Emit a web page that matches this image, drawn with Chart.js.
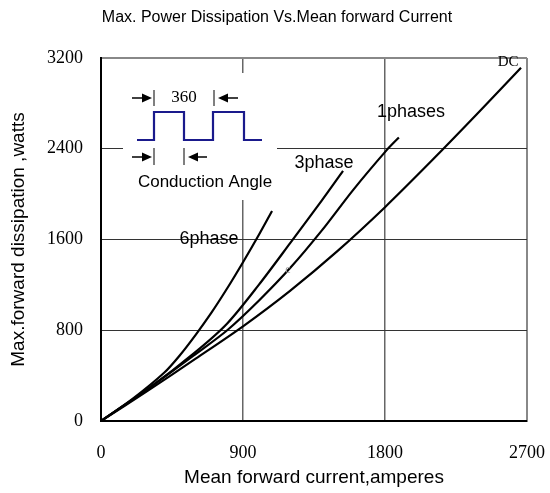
<!DOCTYPE html>
<html>
<head>
<meta charset="utf-8">
<script src="https://cdn.jsdelivr.net/npm/chart.js@4.4.1/dist/chart.umd.min.js"></script>
<style>
html,body{margin:0;padding:0;background:#fff;}
#wrap{width:550px;height:493px;}
</style>
</head>
<body>
<div id="wrap"><canvas id="c" width="550" height="493"></canvas></div>
<script>
// ---- data ----
const xTicks = [0, 900, 1800, 2700];
const yTicks = [0, 800, 1600, 2400, 3200];

const dcX = [0, 300, 600, 900, 1200, 1500, 1800, 2100, 2400, 2662];
const dcY = [0, 270, 550, 835, 1150, 1500, 1885, 2300, 2730, 3115];

const ph1X = [0, 300, 600, 800, 1000, 1200, 1400, 1600, 1812, 1888];
const ph1Y = [0, 285, 590, 800, 1060, 1350, 1680, 2040, 2390, 2500];

const ph3X = [0, 300, 600, 800, 1000, 1200, 1400, 1534];
const ph3Y = [0, 285, 610, 860, 1200, 1570, 1945, 2205];

const ph6X = [0, 200, 400, 500, 600, 700, 800, 900, 1000, 1084];
const ph6Y = [0, 195, 425, 580, 760, 955, 1170, 1400, 1640, 1852];

const curveNames = ['DC', '1phases', '3phase', '6phase'];
const labelX = [2580, 1965, 1413, 684];
const labelY = [3165, 2724, 2274, 1604];

const titleText = 'Max. Power Dissipation Vs.Mean forward Current';
const xTitle = 'Mean forward current,amperes';
const yTitle = 'Max.forward dissipation ,watts';

function pts(xs, ys) { return xs.map((x, i) => ({x: x, y: ys[i]})); }

const mk = (name, xs, ys) => ({
  label: name, data: pts(xs, ys), showLine: true, pointRadius: 0,
  borderColor: '#000', borderWidth: 2.2, tension: 0.3, fill: false
});

function arrow(ctx, xTail, xTip, y) {
  const dir = xTip > xTail ? 1 : -1;
  const head = 10;
  ctx.beginPath();
  ctx.moveTo(xTail, y);
  ctx.lineTo(xTip - dir * head, y);
  ctx.strokeStyle = '#000'; ctx.lineWidth = 1.5; ctx.stroke();
  ctx.beginPath();
  ctx.moveTo(xTip, y);
  ctx.lineTo(xTip - dir * head, y - 4.5);
  ctx.lineTo(xTip - dir * head, y + 4.5);
  ctx.closePath(); ctx.fillStyle = '#000'; ctx.fill();
}
function vtick(ctx, x, y1, y2) {
  ctx.beginPath(); ctx.moveTo(x, y1); ctx.lineTo(x, y2);
  ctx.strokeStyle = '#000'; ctx.lineWidth = 1; ctx.stroke();
}

const deco = {
  id: 'deco',
  beforeDatasetsDraw(chart) {
    const ctx = chart.ctx;
    ctx.save();
    ctx.fillStyle = '#fff';
    ctx.fillRect(123, 73, 154, 127);
    ctx.beginPath();
    const wx = [137, 154, 154, 184, 184, 213, 213, 244, 244, 262];
    const wy = [140, 140, 112, 112, 140, 140, 112, 112, 140, 140];
    wx.forEach((x, i) => i ? ctx.lineTo(x, wy[i]) : ctx.moveTo(x, wy[i]));
    ctx.strokeStyle = '#1a1a8c'; ctx.lineWidth = 2.2; ctx.stroke();
    arrow(ctx, 132, 152, 98); vtick(ctx, 154, 90, 106);
    arrow(ctx, 238, 218, 98); vtick(ctx, 214, 90, 106);
    arrow(ctx, 132, 152, 157); vtick(ctx, 154, 148, 165);
    arrow(ctx, 207, 188, 157); vtick(ctx, 184, 148, 165);
    ctx.fillStyle = '#000';
    ctx.textAlign = 'center'; ctx.textBaseline = 'middle';
    ctx.font = '17px "Liberation Serif"';
    ctx.fillText('360', 184, 98);
    ctx.font = '17px "Liberation Sans"';
    ctx.fillText('Conduction Angle', 205, 182);
    ctx.restore();
  },
  afterDatasetsDraw(chart) {
    const ctx = chart.ctx, xs = chart.scales.x, ys = chart.scales.y;
    ctx.save();
    ctx.fillStyle = '#000';
    ctx.textAlign = 'center'; ctx.textBaseline = 'middle';
    curveNames.forEach((n, i) => {
      ctx.font = i === 0 ? '15px "Liberation Serif"' : '18px "Liberation Sans"';
      ctx.fillText(n, xs.getPixelForValue(labelX[i]), ys.getPixelForValue(labelY[i]));
    });
    ctx.fillStyle = '#999';
    ctx.font = '12px "Liberation Serif"';
    ctx.fillText('c', xs.getPixelForValue(1185), ys.getPixelForValue(1331));
    ctx.fillStyle = '#000';
    ctx.font = '16px "Liberation Sans"';
    ctx.fillText(titleText, 277, 18);
    ctx.restore();
  }
};

const plain = v => String(v);

new Chart(document.getElementById('c'), {
  type: 'scatter',
  data: { datasets: [ mk('DC', dcX, dcY), mk('1phases', ph1X, ph1Y), mk('3phase', ph3X, ph3Y), mk('6phase', ph6X, ph6Y) ] },
  options: {
    responsive: false, animation: false, devicePixelRatio: 1,
    layout: { padding: { left: 0, right: 23, top: 58, bottom: 0 } },
    plugins: { legend: { display: false }, tooltip: { enabled: false }, title: { display: false } },
    scales: {
      x: {
        type: 'linear', min: 0, max: 2700,
        afterFit: s => { s.height = 72; s.paddingLeft = 0; s.paddingRight = 0; },
        afterBuildTicks: s => { s.ticks = xTicks.map(v => ({value: v})); },
        ticks: { font: { family: 'Liberation Serif', size: 18 }, color: '#000', padding: 21, callback: plain, maxRotation: 0 },
        grid: {
          drawTicks: false,
          color: c => (c.tick && c.tick.value === 2700) ? '#888' : '#666',
          lineWidth: c => (c.tick && c.tick.value === 2700) ? 2 : 1.5
        },
        border: { color: '#000', width: 2 },
        title: { display: true, text: xTitle, color: '#000', font: { family: 'Liberation Sans', size: 19 }, padding: { top: 0, bottom: 4 } }
      },
      y: {
        type: 'linear', min: 0, max: 3200,
        afterFit: s => { s.width = 101; s.paddingTop = 0; s.paddingBottom = 0; },
        afterBuildTicks: s => { s.ticks = yTicks.map(v => ({value: v})); },
        ticks: { font: { family: 'Liberation Serif', size: 18 }, color: '#000', padding: 18, callback: plain },
        grid: {
          drawTicks: false,
          color: c => (c.tick && c.tick.value === 3200) ? '#888' : '#333',
          lineWidth: c => (c.tick && c.tick.value === 3200) ? 2 : 1
        },
        border: { color: '#000', width: 2 },
        title: { display: true, text: yTitle, color: '#000', font: { family: 'Liberation Sans', size: 19 }, padding: { top: 7, bottom: 0 } }
      }
    }
  },
  plugins: [deco]
});
</script>
</body>
</html>
